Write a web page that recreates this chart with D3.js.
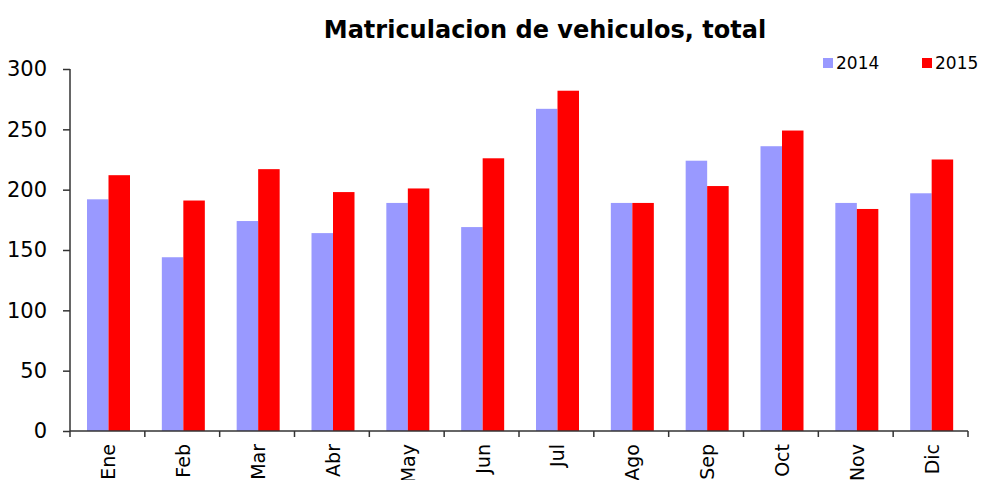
<!DOCTYPE html>
<html>
<head>
<meta charset="utf-8">
<script src="https://cdn.jsdelivr.net/npm/d3@7"></script>
<style>
  body { margin: 0; background: #fff; }
  svg { font-family: "DejaVu Sans", Verdana, sans-serif; }
</style>
</head>
<body>
<svg width="981" height="480"></svg>
<script>
var width = 981;
var height = 480;
var margin = {left: 70, right: 13, top: 69, bottom: 49};

// Data
var months = ["Ene", "Feb", "Mar", "Abr", "May", "Jun", "Jul", "Ago", "Sep", "Oct", "Nov", "Dic"];
var values2014 = [192, 144, 174, 164, 189, 169, 267, 189, 224, 236, 189, 197];
var values2015 = [212, 191, 217, 198, 201, 226, 282, 189, 203, 249, 184, 225];
var seriesNames = ["2014", "2015"];
var seriesColors = ["#9999ff", "#ff0000"];
var yTicks = [0, 50, 100, 150, 200, 250, 300];

var svg = d3.select("svg");

// Scales
var xScale = d3.scaleBand().domain(months).range([margin.left, width - margin.right]);
var innerScale = d3.scaleBand().domain(seriesNames).range([17, 60]);
var yScale = d3.scaleLinear().domain([0, 300]).range([height - margin.bottom, margin.top]);

var rows = months.map(function (m, i) {
  return {month: m, values: [values2014[i], values2015[i]]};
});

// Bars
var groups = svg.selectAll("g.group")
  .data(rows)
  .enter()
  .append("g")
  .attr("class", "group")
  .attr("transform", function (d) { return "translate(" + xScale(d.month) + ",0)"; });

groups.selectAll("rect")
  .data(function (d) { return d.values.map(function (v, j) { return {key: seriesNames[j], value: v, color: seriesColors[j]}; }); })
  .enter()
  .append("rect")
  .attr("x", function (d) { return innerScale(d.key); })
  .attr("width", innerScale.bandwidth())
  .attr("y", function (d) { return yScale(d.value); })
  .attr("height", function (d) { return yScale(0) - yScale(d.value); })
  .attr("fill", function (d) { return d.color; });

// Y axis
var yAxis = svg.append("g")
  .attr("transform", "translate(" + margin.left + ",0)")
  .call(d3.axisLeft(yScale).tickValues(yTicks).tickSize(7).tickPadding(16));
yAxis.attr("font-size", null).attr("font-family", null);
yAxis.selectAll("text").style("font-size", "21px").attr("fill", "#000");
yAxis.selectAll("line, path").attr("stroke", "#333").attr("stroke-width", 1.5);
yAxis.select("path").attr("d", "M0," + yScale(300) + "V" + yScale(0));

// X axis with ticks between categories
var xAxis = svg.append("g")
  .attr("transform", "translate(0," + yScale(0) + ")");
xAxis.append("line")
  .attr("x1", margin.left).attr("x2", width - margin.right)
  .attr("stroke", "#333").attr("stroke-width", 1.5);
var bounds = months.map(function (m) { return xScale(m); }).concat([width - margin.right]);
xAxis.selectAll("line.tick")
  .data(bounds)
  .enter()
  .append("line")
  .attr("class", "tick")
  .attr("x1", function (d) { return d; }).attr("x2", function (d) { return d; })
  .attr("y1", 0).attr("y2", 6)
  .attr("stroke", "#333").attr("stroke-width", 1.5);
xAxis.selectAll("text")
  .data(months)
  .enter()
  .append("text")
  .attr("transform", function (d) { return "translate(" + (xScale(d) + xScale.bandwidth() / 2 + 8) + ",13) rotate(-90)"; })
  .attr("text-anchor", "end")
  .style("font-size", "19px")
  .text(function (d) { return d; });

// Title
svg.append("text")
  .attr("x", 545)
  .attr("y", 38)
  .attr("text-anchor", "middle")
  .style("font-size", "24px")
  .style("font-weight", "bold")
  .text("Matriculacion de vehiculos, total");

// Legend
var legendX = [823, 922];
var legend = svg.selectAll("g.legend")
  .data(seriesNames)
  .enter()
  .append("g")
  .attr("class", "legend")
  .attr("transform", function (d, i) { return "translate(" + legendX[i] + ",58)"; });
legend.append("rect")
  .attr("width", 10).attr("height", 10)
  .attr("fill", function (d, i) { return seriesColors[i]; });
legend.append("text")
  .attr("x", 13).attr("y", 11)
  .style("font-size", "17px")
  .text(function (d) { return d; });
</script>
</body>
</html>
